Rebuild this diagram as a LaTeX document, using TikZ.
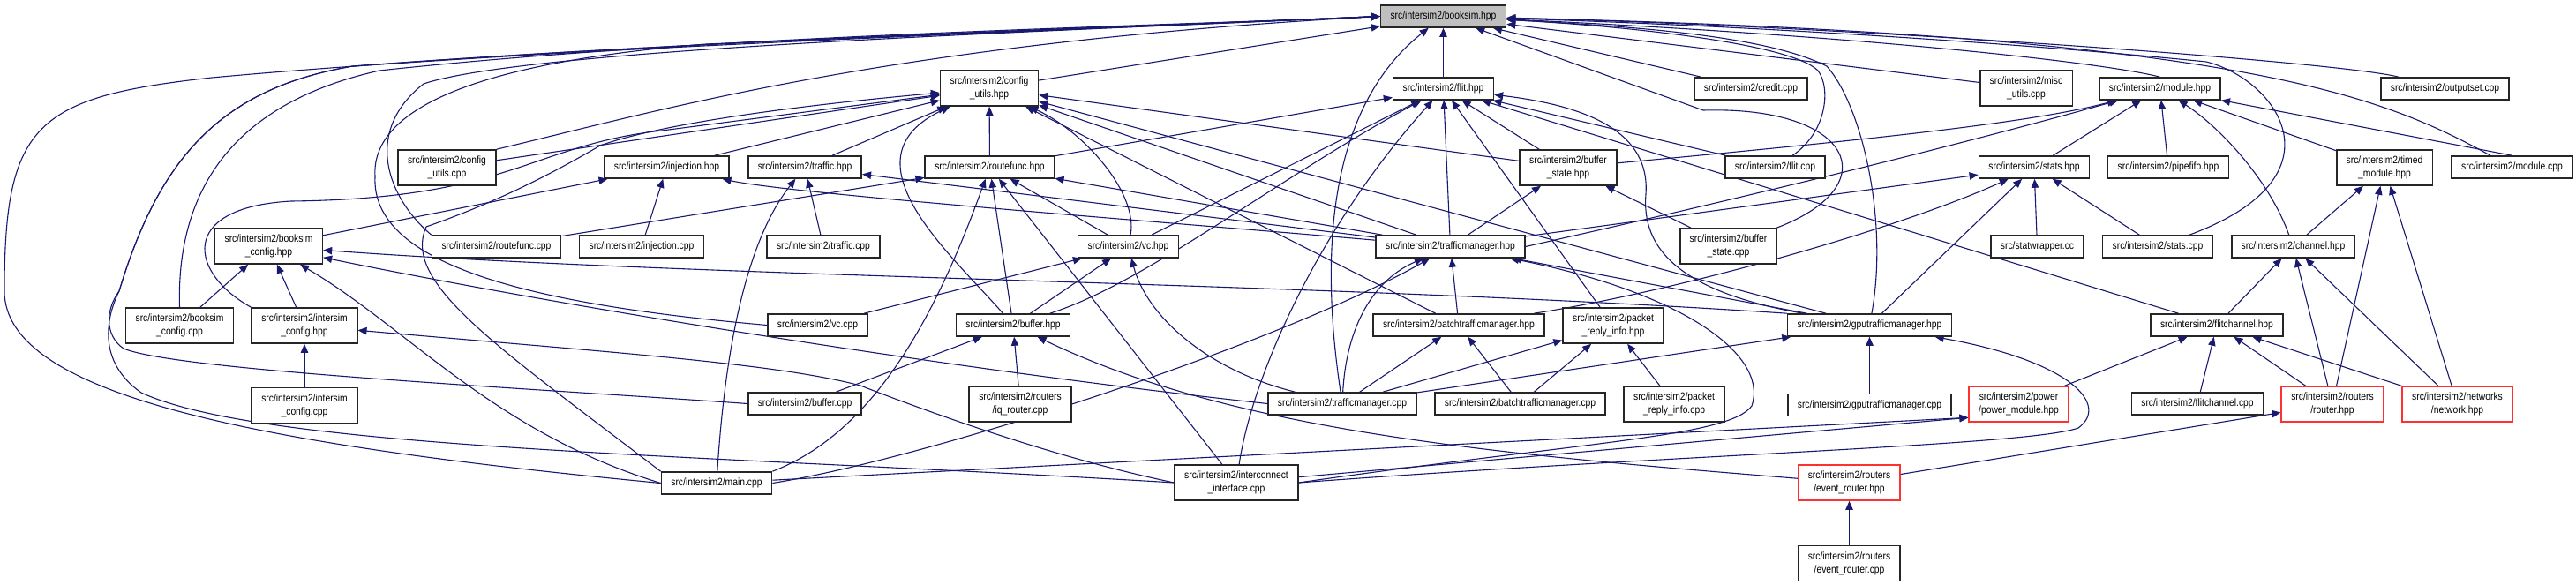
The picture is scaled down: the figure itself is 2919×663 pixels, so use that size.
\documentclass[tikz,border=0pt]{standalone}
\usepackage{fontspec}
\setmainfont{Liberation Sans}[FakeStretch=0.86]
\usepackage{tikz}
\usetikzlibrary{arrows.meta,positioning,backgrounds}
\definecolor{dxEdge}{HTML}{191970}
\definecolor{dxRoot}{HTML}{BFBFBF}
\definecolor{dxTrunc}{HTML}{FF3030}
\tikzset{
  file/.style={rectangle, draw=black!85, line width=0.8pt, fill=white, align=center, inner xsep=5.5pt, inner ysep=1pt, minimum height=12.5pt, font=\fontsize{6}{7.5}\selectfont},
  twoline/.style={minimum height=20pt},
  root/.style={file, fill=dxRoot},
  trunc/.style={file, draw=dxTrunc},
  dep/.style={-{Triangle[length=5pt,width=4.2pt]}, line width=0.55pt, draw=dxEdge}
}
\begin{document}
\begin{tikzpicture}[x=0.5pt,y=-0.5pt]
\useasboundingbox (0,0) rectangle (2919,663);

\node[root] (booksim) at (1635.5,18.5) {src/intersim2/booksim.hpp};

\node[file,twoline] (cfgh) at (1121,100) {src/intersim2/config\\\_utils.hpp};
\node[file] (fliths) at (1635.5,100.5) {src/intersim2/flit.hpp};
\node[file] (creditcpp) at (1984,100.5) {src/intersim2/credit.cpp};
\node[file,twoline] (misccpp) at (2296,100) {src/intersim2/misc\\\_utils.cpp};
\node[file] (moduleh) at (2447.5,100.5) {src/intersim2/module.hpp};
\node[file] (outputsetcpp) at (2770.5,100.5) {src/intersim2/outputset.cpp};

\node[file,twoline] (cfgcpp) at (506.5,190) {src/intersim2/config\\\_utils.cpp};
\node[file] (injh) at (755.5,189.5) {src/intersim2/injection.hpp};
\node[file] (traffich) at (912,189.5) {src/intersim2/traffic.hpp};
\node[file] (routeh) at (1121.5,189.5) {src/intersim2/routefunc.hpp};
\node[file,twoline] (bsh) at (1777,190) {src/intersim2/buffer\\\_state.hpp};
\node[file] (flitcpp) at (2011.5,189.5) {src/intersim2/flit.cpp};
\node[file] (statsh) at (2305,189.5) {src/intersim2/stats.hpp};
\node[file] (fifoh) at (2457,189.5) {src/intersim2/pipefifo.hpp};
\node[file,twoline] (timedh) at (2702,190) {src/intersim2/timed\\\_module.hpp};
\node[file] (modulecpp) at (2846.5,189.5) {src/intersim2/module.cpp};

\node[file,twoline] (bcfgh) at (304.5,279) {src/intersim2/booksim\\\_config.hpp};
\node[file] (routecpp) at (562.5,279.5) {src/intersim2/routefunc.cpp};
\node[file] (injcpp) at (727,279.5) {src/intersim2/injection.cpp};
\node[file] (trafficcpp) at (933,279.5) {src/intersim2/traffic.cpp};
\node[file] (vch) at (1278.5,279.5) {src/intersim2/vc.hpp};
\node[file] (tmh) at (1643.5,279.5) {src/intersim2/trafficmanager.hpp};
\node[file,twoline] (bscpp) at (1958.5,279) {src/intersim2/buffer\\\_state.cpp};
\node[file] (statwrap) at (2308.5,279.5) {src/statwrapper.cc};
\node[file] (statscpp) at (2445,279.5) {src/intersim2/stats.cpp};
\node[file] (channelh) at (2598.5,279.5) {src/intersim2/channel.hpp};

\node[file,twoline] (bcfgcpp) at (203.5,369) {src/intersim2/booksim\\\_config.cpp};
\node[file,twoline] (iscfgh) at (345,369) {src/intersim2/intersim\\\_config.hpp};
\node[file] (vccpp) at (926.5,368.5) {src/intersim2/vc.cpp};
\node[file] (bufferh) at (1148,368.5) {src/intersim2/buffer.hpp};
\node[file] (batchh) at (1653,368.5) {src/intersim2/batchtrafficmanager.hpp};
\node[file,twoline] (replyh) at (1828,369) {src/intersim2/packet\\\_reply\_info.hpp};
\node[file] (gpuh) at (2118.5,368.5) {src/intersim2/gputrafficmanager.hpp};
\node[file] (flitchh) at (2512,368.5) {src/intersim2/flitchannel.hpp};

\node[file,twoline,below=24.5pt of iscfgh] (iscfgcpp) {src/intersim2/intersim\\\_config.cpp};
\node[file] (buffercpp) at (912,457.5) {src/intersim2/buffer.cpp};
\node[file,twoline] (iqcpp) at (1156,458) {src/intersim2/routers\\/iq\_router.cpp};
\node[file] (tmcpp) at (1521,457.5) {src/intersim2/trafficmanager.cpp};
\node[file] (batchcpp) at (1722.5,457.5) {src/intersim2/batchtrafficmanager.cpp};
\node[file,twoline] (replycpp) at (1897,458) {src/intersim2/packet\\\_reply\_info.cpp};
\node[file,below=32pt of gpuh] (gpucpp) {src/intersim2/gputrafficmanager.cpp};
\node[trunc,twoline] (powerh) at (2287.5,458) {src/intersim2/power\\/power\_module.hpp};
\node[file] (flitchcpp) at (2490,457.5) {src/intersim2/flitchannel.cpp};
\node[trunc,twoline] (routerh) at (2643,458) {src/intersim2/routers\\/router.hpp};
\node[trunc,twoline] (networkh) at (2784.5,458) {src/intersim2/networks\\/network.hpp};

\node[file] (maincpp) at (812,547.5) {src/intersim2/main.cpp};
\node[file,twoline] (iccpp) at (1401,547) {src/intersim2/interconnect\\\_interface.cpp};
\node[trunc,twoline] (eventh) at (2095.5,547) {src/intersim2/routers\\/event\_router.hpp};
\node[file,twoline,below=25pt of eventh] (eventcpp) {src/intersim2/routers\\/event\_router.cpp};

\begin{scope}[on background layer]
\fill[white] (0,0) rectangle (2919,663);

\draw[dep] (cfgh) -- (booksim);
\draw[dep] (fliths) -- (booksim);
\draw[dep] (creditcpp) -- (booksim);
\draw[dep] (misccpp) -- (booksim);
\draw[dep] (moduleh.north) .. controls (2380,70) and (2100,40) .. (booksim);
\draw[dep] (outputsetcpp) .. controls (2650,70) and (2100,30) .. (booksim);
\draw[dep] (modulecpp) .. controls (2700,110) and (2550,40) .. (booksim);
\draw[dep] (statscpp) .. controls (2660,200) and (2580,90) .. (2500,70) .. controls (2300,50) and (2000,30) .. (booksim);
\draw[dep] (gpuh) .. controls (2140,250) and (2110,120) .. (2070,75) .. controls (2000,40) and (1850,30) .. (booksim);
\draw[dep] (flitcpp) .. controls (2070,150) and (2075,100) .. (2060,80) .. controls (2030,50) and (1850,30) .. (booksim);
\draw[dep] (bscpp) .. controls (2140,210) and (2100,120) .. (1930,125) -- (booksim);
\draw[dep] (tmcpp) .. controls (1490,250) and (1520,110) .. (booksim);
\draw[dep] (cfgcpp.north east) .. controls (750,125) and (1000,50) .. (booksim.west);
\draw[dep] (routecpp.north west) .. controls (440,225) and (410,150) .. (480,95) .. controls (600,55) and (1200,35) .. (booksim.west);
\draw[dep] (vccpp.west) .. controls (600,345) and (420,300) .. (425,200) .. controls (420,120) and (550,70) .. (800,50) -- (booksim.west);
\draw[dep] (bcfgcpp.north) .. controls (200,230) and (250,120) .. (430,80) .. controls (800,40) and (1300,30) .. (booksim.west);
\draw[dep] (maincpp.west) .. controls (300,505) and (5,450) .. (5,330) .. controls (5,140) and (40,110) .. (240,88) .. controls (600,55) and (1200,35) .. (booksim.west);
\draw[dep] (iccpp.west) .. controls (800,515) and (300,510) .. (160,445) .. controls (110,410) and (120,360) .. (135,330) .. controls (180,180) and (250,100) .. (400,75) .. controls (800,45) and (1300,30) .. (booksim.west);
\draw[dep] (buffercpp.west) .. controls (600,440) and (200,420) .. (140,395) .. controls (118,380) and (120,350) .. (135,330) .. controls (180,180) and (250,100) .. (400,75) .. controls (800,45) and (1300,30) .. (booksim.west);

\draw[dep] (injh) -- (cfgh);
\draw[dep] (traffich) -- (cfgh);
\draw[dep] (routeh) -- (cfgh);
\draw[dep] (cfgcpp) -- (cfgh);
\draw[dep] (vch) .. controls (1290,220) and (1230,150) .. (cfgh);
\draw[dep] (bufferh) .. controls (1080,290) and (950,180) .. (cfgh);
\draw[dep] (iscfgh.north west) .. controls (215,310) and (200,235) .. (330,228) .. controls (580,225) and (600,165) .. (750,148) -- (cfgh);
\draw[dep] (maincpp.north west) .. controls (560,390) and (455,320) .. (483,257) .. controls (560,230) and (620,200) .. (680,165) .. controls (750,140) and (900,120) .. (cfgh);
\draw[dep] (bsh) -- (cfgh);
\draw[dep] (tmh) -- (cfgh);
\draw[dep] (batchh) -- (cfgh);
\draw[dep] (gpuh) -- (cfgh);

\draw[dep] (routeh) -- (fliths);
\draw[dep] (vch) -- (fliths);
\draw[dep] (bufferh) .. controls (1300,320) and (1450,200) .. (fliths);
\draw[dep] (iccpp) .. controls (1420,420) and (1500,250) .. (fliths);
\draw[dep] (tmh) -- (fliths);
\draw[dep] (replyh) -- (fliths);
\draw[dep] (bsh) -- (fliths);
\draw[dep] (flitcpp) -- (fliths);
\draw[dep] (flitchh) -- (fliths);
\draw[dep] (gpuh) .. controls (1900,330) and (1860,280) .. (1865,220) .. controls (1870,150) and (1800,120) .. (fliths);

\draw[dep] (statsh) -- (moduleh);
\draw[dep] (fifoh) -- (moduleh);
\draw[dep] (timedh) -- (moduleh);
\draw[dep] (modulecpp.north) -- (moduleh);
\draw[dep] (channelh) .. controls (2570,200) and (2510,140) .. (moduleh);
\draw[dep] (bsh) .. controls (2100,160) and (2300,140) .. (moduleh);
\draw[dep] (tmh.east) .. controls (1950,230) and (2200,170) .. (moduleh);

\draw[dep] (injcpp) -- (injh);
\draw[dep] (bcfgh) -- (injh);
\draw[dep] (tmh) .. controls (1300,250) and (900,220) .. (injh);
\draw[dep] (trafficcpp) -- (traffich);
\draw[dep] (tmh) -- (traffich);
\draw[dep] (maincpp) .. controls (820,420) and (840,280) .. (traffich);
\draw[dep] (routecpp) -- (routeh);
\draw[dep] (tmh) -- (routeh);
\draw[dep] (maincpp.north east) .. controls (990,490) and (1060,360) .. (routeh);
\draw[dep] (bufferh) -- (routeh);
\draw[dep] (iccpp) -- (routeh);
\draw[dep] (vch) -- (routeh);
\draw[dep] (tmh) -- (bsh);
\draw[dep] (bscpp) -- (bsh);
\draw[dep] (tmh) -- (statsh);
\draw[dep] (batchh) .. controls (1900,330) and (2150,260) .. (statsh);
\draw[dep] (gpuh) -- (statsh);
\draw[dep] (statwrap) -- (statsh);
\draw[dep] (statscpp) -- (statsh);
\draw[dep] (channelh) -- (timedh);
\draw[dep] (routerh) -- (timedh);
\draw[dep] (networkh) -- (timedh);

\draw[dep] (bcfgcpp) -- (bcfgh);
\draw[dep] (iscfgh) -- (bcfgh);
\draw[dep] (maincpp.west) .. controls (560,490) and (460,370) .. (bcfgh);
\draw[dep] (tmcpp.west) .. controls (1000,410) and (550,330) .. (bcfgh);
\draw[dep] (gpuh.north west) .. controls (1500,320) and (800,315) .. (bcfgh);
\draw[dep] (vccpp) -- (vch);
\draw[dep] (bufferh) -- (vch);
\draw[dep] (tmcpp) .. controls (1370,420) and (1300,360) .. (vch);
\draw[dep] (tmcpp) .. controls (1525,380) and (1550,320) .. (tmh);
\draw[dep] (maincpp.east) .. controls (1050,520) and (1450,390) .. (tmh);
\draw[dep] (batchh) -- (tmh);
\draw[dep] (gpuh) -- (tmh);
\draw[dep] (iccpp.east) .. controls (1800,500) and (1960,495) .. (1985,460) .. controls (2005,400) and (1900,330) .. (tmh);
\draw[dep] (flitchh) -- (channelh);
\draw[dep] (routerh) -- (channelh);
\draw[dep] (networkh) -- (channelh);

\draw[dep] (iscfgcpp) -- (iscfgh);
\draw[dep] (iccpp.west) .. controls (1200,520) and (1060,470) .. (975,437) .. controls (880,412) and (700,400) .. (iscfgh);
\draw[dep] (buffercpp) -- (bufferh);
\draw[dep] (iqcpp) -- (bufferh);
\draw[dep] (eventh) .. controls (1700,515) and (1400,490) .. (bufferh);
\draw[dep] (tmcpp) -- (batchh);
\draw[dep] (batchcpp) -- (batchh);
\draw[dep] (tmcpp) -- (replyh);
\draw[dep] (batchcpp) -- (replyh);
\draw[dep] (replycpp) -- (replyh);
\draw[dep] (tmcpp) -- (gpuh);
\draw[dep] (gpucpp) -- (gpuh);
\draw[dep] (iccpp.east) .. controls (1900,515) and (2300,505) .. (2355,485) .. controls (2390,460) and (2350,410) .. (gpuh);
\draw[dep] (powerh) -- (flitchh);
\draw[dep] (flitchcpp) -- (flitchh);
\draw[dep] (routerh) -- (flitchh);
\draw[dep] (networkh) -- (flitchh);
\draw[dep] (eventh) -- (routerh);
\draw[dep] (eventcpp) -- (eventh);
\draw[dep] (maincpp) -- (powerh.195);
\draw[dep] (iccpp) -- (powerh.195);
\end{scope}

\end{tikzpicture}
\end{document}
